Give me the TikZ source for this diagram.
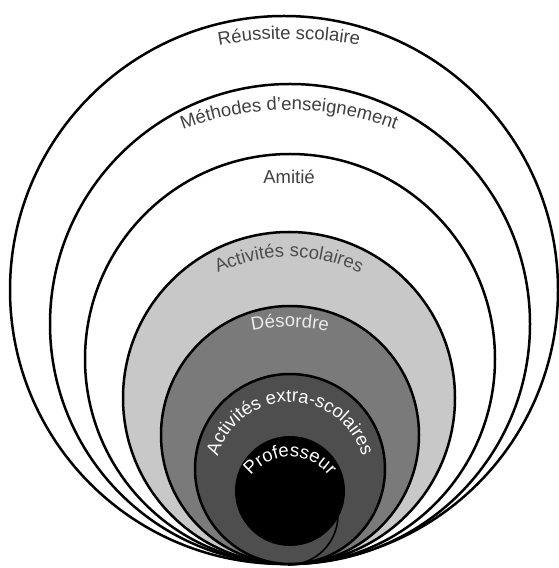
\documentclass[tikz,border=0pt]{standalone}
\usepackage{fontspec}
\newfontfamily\lblfont{Liberation Sans}
\usetikzlibrary{calc,decorations.text}
\definecolor{scolgray}{HTML}{C8C8C8}
\definecolor{desgray}{HTML}{7A7A7A}
\definecolor{extragray}{HTML}{4E4E4E}
\tikzset{ring/.style={draw=black, line width=2.5pt}}
\def\ringarc[#1](#2)(#3:#4:#5){\draw[#1] ($(#2)+({#5*cos(#3)},{#5*sin(#3)})$) arc (#3:#4:#5);}
\def\arclabel[#1](#2)(#3:#4:#5)#6{\path[decorate,decoration={text along path,text align=center,text={|\lblfont\fontsize{18.5}{20}\selectfont\color{#1}|#6}}] ($(#2)+({#5*cos(#3)},{#5*sin(#3)})$) arc (#3:#4:#5);}

\begin{document}
\begin{tikzpicture}[x=1pt,y=1pt]
			%%%%% START %%%%%
			\fill[white] (0, 0) rectangle (558, 568);
			\useasboundingbox (0, 0) rectangle (558, 568);
			
			\draw[ring, fill=white] (284, 278) circle (274);
			\draw[ring, fill=white] (290, 244) circle (240);
			\draw[ring, fill=white] (290, 209) circle (205);
			\draw[ring, fill=scolgray] (289, 170) circle (166);
			\draw[ring, fill=desgray] (290, 133) circle (129);
			\draw[ring, fill=extragray] (290, 99) circle (95);
			
			\ringarc[ring, line width=1.6pt](288, 53)(0:-90:50);
			\fill[black] (290, 77) circle (55);
			
			\arclabel[black!75](289, 129)(105:75:400){Réussite scolaire}
			\arclabel[black!75](289, 158)(120:60:300){Méthodes d’enseignement}
			\arclabel[black!75](289, -615)(93:87:1000){Amitié}
			\arclabel[black!70](289, 146)(125:55:165){Activités scolaires}
			\arclabel[white!92!black](290, 61)(110:70:180){Désordre}
			\arclabel[white](290, 91)(175:5:75){Activités extra-scolaires}
			\arclabel[white](290, 61)(160:20:50){Professeur}
			%%%%% END %%%%%
\end{tikzpicture}
\end{document}
